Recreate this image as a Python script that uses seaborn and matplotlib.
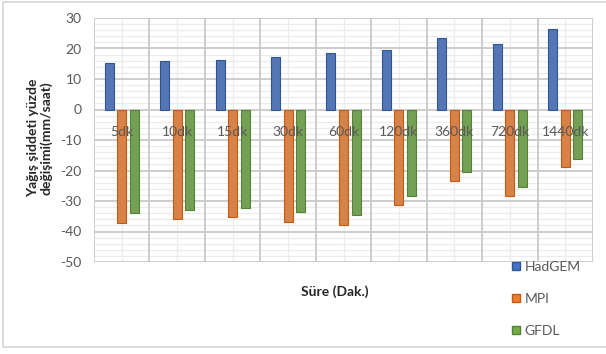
import matplotlib
matplotlib.use("Agg")
import matplotlib.pyplot as plt
from matplotlib.patches import Rectangle
from matplotlib.lines import Line2D
import numpy as np
import pandas as pd
import seaborn as sns

# Rainfall intensity change (%) per duration for three climate models
durations = ["5dk", "10dk", "15dk", "30dk", "60dk", "120dk", "360dk", "720dk", "1440dk"]
models = ["HadGEM", "MPI", "GFDL"]
hadgem = [15.4, 15.8, 16.3, 17.2, 18.5, 19.4, 23.3, 21.6, 26.3]
mpi = [-37.3, -35.9, -35.4, -36.9, -37.8, -31.4, -23.4, -28.4, -18.8]
gfdl = [-34.0, -33.1, -32.4, -33.5, -34.5, -28.5, -20.6, -25.4, -16.1]
y_ticks = [30, 20, 10, 0, -10, -20, -30, -40, -50]

colors = {"HadGEM": "#4472C4", "MPI": "#ED7D31", "GFDL": "#70AD47"}
edges = {"HadGEM": "#2F5597", "MPI": "#C55A11", "GFDL": "#548235"}

df = pd.DataFrame({
    "Süre": durations * 3,
    "Model": [m for m in models for _ in durations],
    "Değişim": hadgem + mpi + gfdl,
})

sns.set_theme(style="white")
plt.rcParams["font.family"] = ["Lato", "DejaVu Sans"]

fig = plt.figure(figsize=(6.06, 3.54), dpi=100)
ax = fig.add_axes([94 / 606, 1 - 262 / 354, (593 - 94) / 606, (262 - 18) / 354])

sns.barplot(data=df, x="Süre", y="Değişim", hue="Model", hue_order=models,
            order=durations, palette=colors, width=0.68, gap=0.28,
            legend=False, ax=ax, zorder=3)

for bar_group, m in zip(ax.containers, models):
    for bar in bar_group:
        bar.set_edgecolor(edges[m])
        bar.set_linewidth(0.8)

ax.set_ylim(-50, 30)
ax.set_xlim(-0.5, len(durations) - 0.5)
ax.set_yticks(y_ticks)
ax.set_yticklabels([str(v) for v in y_ticks])

# Grid: strong lines at every 10 units and at category boundaries,
# faint lines at every 2 units and at category centres
for v in np.arange(-50, 31, 2):
    if v % 10 == 0:
        ax.axhline(v, color="#c9c9c9", lw=1.3, zorder=1)
    else:
        ax.axhline(v, color="#ececec", lw=0.9, zorder=0.5)
for i in range(len(durations) + 1):
    ax.axvline(i - 0.5, color="#c9c9c9", lw=1.3, zorder=1)
for i in range(len(durations)):
    ax.axvline(i, color="#ececec", lw=0.9, zorder=0.5)

for s in ax.spines.values():
    s.set_visible(False)
# Category labels sit just under the zero line, drawn over the bars
ax.spines["bottom"].set_position(("data", 0))
ax.xaxis.set_zorder(5)

ax.tick_params(axis="y", length=0, pad=9, labelsize=10, labelcolor="#595959")
ax.tick_params(axis="x", length=0, pad=12, labelsize=10, labelcolor="#595959")
ax.set_xlabel("")
ax.set_ylabel("")

fig.text(0.066, 1 - 138 / 354, "Yağış şiddeti yüzde\ndeğişimi(mm/saat)",
         rotation=90, ha="center", va="center", fontsize=10,
         fontweight="bold", color="#262626", linespacing=1.1)
fig.text(335 / 606, 1 - 292 / 354, "Süre (Dak.)", ha="center", va="center",
         fontsize=10, fontweight="bold", color="#262626")

handles = [Line2D([0], [0], marker="s", linestyle="none", markersize=6,
                  markerfacecolor=colors[m], markeredgecolor=edges[m])
           for m in models]
fig.legend(handles, models, loc="upper left", bbox_to_anchor=(505 / 606, 1 - 254 / 354),
           frameon=False, fontsize=10, labelspacing=1.45, handlelength=0.6,
           handletextpad=0.3, labelcolor="#595959", borderpad=0)

fig.patches.append(Rectangle((3 / 606, 7 / 354), 1.0, 1 - 9 / 354,
                             transform=fig.transFigure, fill=False,
                             edgecolor="#d4d4d4", lw=1.2))

fig.savefig("out.png", dpi=100, facecolor="white")
